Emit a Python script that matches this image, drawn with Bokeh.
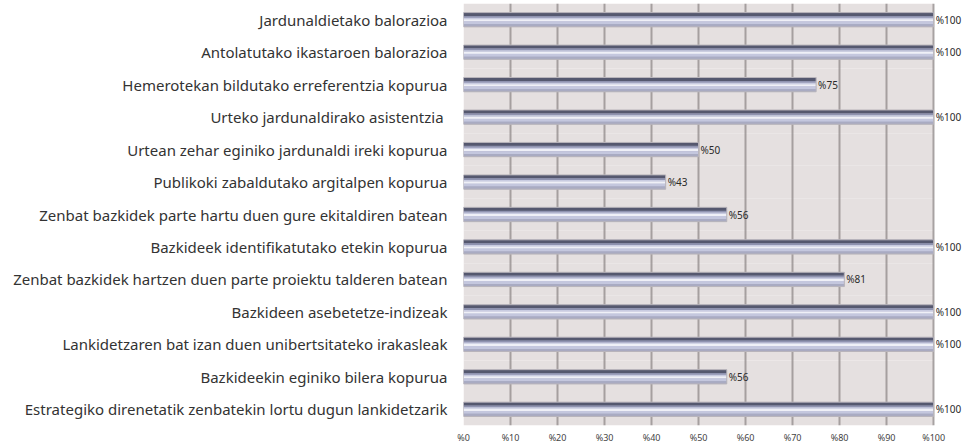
from bokeh.plotting import figure
from bokeh.models import FactorRange, Range1d, FixedTicker, LabelSet, ColumnDataSource
from bokeh.transform import dodge
from bokeh.core.properties import value
from bokeh.embed import file_html
from bokeh.resources import INLINE

categories = [
    "Jardunaldietako balorazioa",
    "Antolatutako ikastaroen balorazioa",
    "Hemerotekan bildutako erreferentzia kopurua",
    "Urteko jardunaldirako  asistentzia",
    "Urtean zehar eginiko jardunaldi ireki kopurua",
    "Publikoki zabaldutako argitalpen kopurua",
    "Zenbat bazkidek parte hartu duen gure ekitaldiren batean",
    "Bazkideek identifikatutako etekin kopurua",
    "Zenbat bazkidek hartzen duen parte proiektu talderen batean",
    "Bazkideen asebetetze-indizeak",
    "Lankidetzaren bat izan duen unibertsitateko irakasleak",
    "Bazkideekin eginiko bilera kopurua",
    "Estrategiko direnetatik zenbatekin lortu dugun lankidetzarik",
]
values = [100, 100, 75, 100, 50, 43, 56, 100, 81, 100, 100, 56, 100]
value_labels = ["%" + str(v) for v in values]
tick_values = [0, 10, 20, 30, 40, 50, 60, 70, 80, 90, 100]
tick_labels = ["%0", "%10", "%20", "%30", "%40", "%50", "%60", "%70", "%80", "%90", "%100"]

FONT = "Noto Sans"

src = ColumnDataSource(dict(cat=categories, val=values, lab=value_labels,
                            zero=[0] * len(values), full=[100] * len(values)))

p = figure(
    y_range=FactorRange(*reversed(categories)),
    x_range=Range1d(0, 107.2),
    frame_width=504, frame_height=422,
    min_border_left=463, min_border_right=0, min_border_top=3, min_border_bottom=16,
    output_backend="svg", toolbar_location=None,
    background_fill_color="white", border_fill_color="white",
)
p.outline_line_color = None

# plot-area background (0..100 only)
p.hbar(y="cat", left="zero", right="full", height=1.0, source=src,
       fill_color="#e5e0e0", line_color=None, level="image")

# vertical grid
p.xgrid.ticker = FixedTicker(ticks=tick_values)
p.xgrid.grid_line_color = "#8f8a8a"
p.xgrid.grid_line_width = 2
p.xgrid.grid_line_alpha = 0.75
p.ygrid.grid_line_color = None

yr = p.y_range
# cylinder-like bars: layered hbars
layers = [
    (0.0, 0.44, "#a4a7c2"),
    (0.165, 0.11, "#55586f"),
    (0.085, 0.06, "#8f93b0"),
    (0.035, 0.05, "#c9cce1"),
    (-0.02, 0.07, "#eff0f7"),
    (-0.095, 0.09, "#c4c7de"),
    (-0.18, 0.08, "#a9abc2"),
]
for off, h, col in layers:
    p.hbar(y=dodge("cat", off, range=yr), left="zero", right="val", height=h,
           source=src, fill_color=col, line_color=None)
p.hbar(y="cat", left="zero", right="val", height=0.44, source=src,
       fill_color=None, line_color="#b9b5bb", line_width=1)

labels = LabelSet(x="val", y="cat", text="lab", source=src, x_offset=2,
                  text_font=value(FONT), text_font_size="10px", text_color="#2a2a2a",
                  text_baseline="middle", text_align="left")
p.add_layout(labels)

p.yaxis.axis_line_color = None
p.yaxis.major_tick_line_color = None
p.yaxis.minor_tick_line_color = None
p.yaxis.major_tick_out = 0
p.yaxis.major_tick_in = 0
p.yaxis.major_label_standoff = 16
p.yaxis.major_label_text_font = FONT
p.yaxis.major_label_text_font_size = "15px"
p.yaxis.major_label_text_color = "#333333"

p.xaxis.ticker = FixedTicker(ticks=tick_values)
p.xaxis.major_label_overrides = {t: l for t, l in zip(tick_values, tick_labels)}
p.xaxis.axis_line_color = None
p.xaxis.major_tick_line_color = None
p.xaxis.minor_tick_line_color = None
p.xaxis.major_tick_out = 0
p.xaxis.major_tick_in = 0
p.xaxis.major_label_standoff = 5
p.xaxis.major_label_text_font = FONT
p.xaxis.major_label_text_font_size = "9px"
p.xaxis.major_label_text_color = "#444444"

open("out.html", "w").write(file_html(p, INLINE))
